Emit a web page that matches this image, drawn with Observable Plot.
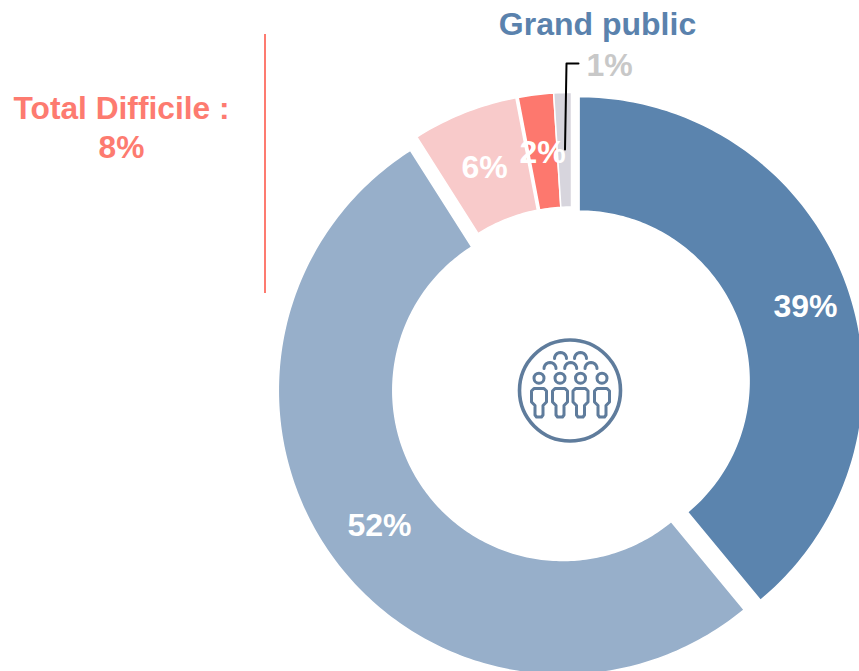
<!DOCTYPE html>
<html>
<head>
<meta charset="utf-8">
<script src="https://cdn.jsdelivr.net/npm/d3@7"></script>
<script src="https://cdn.jsdelivr.net/npm/@observablehq/plot@0.6"></script>
<style>
html,body{margin:0;padding:0;background:#fff;overflow:hidden}
svg{display:block}
</style>
</head>
<body>
<div id="chart"></div>
<script>
// Data
const categories = ["Très facile", "Facile", "Assez difficile", "Difficile", "Très difficile"];
const shares = [39, 52, 6, 2, 1];
const shareLabels = ["39%", "52%", "6%", "2%", "1%"];
const colors = ["#5b84ae", "#97afca", "#f8caca", "#fd786e", "#d7d5dd"];

// Layout of the exploded ring, in pixels of the picture
const centerX = [578.6, 562.3, 568.7, 571, 571];
const centerY = [380.6, 390, 376.7, 376.5, 376.5];
const outerR = 284.5, innerR = 170;
const labelX = [805, 379, 484, 542, 609];
const labelY = [306.5, 525, 167.5, 152.5, 65];
const labelColors = ["#fff", "#fff", "#fff", "#fff", "#c8c8c8"];

const rad = d => d * Math.PI / 180;
const total = d3.sum(shares);
let cum = 0;
const ringRows = [];
shares.forEach((v, i) => {
  const a0 = cum / total * 360, a1 = (cum + v) / total * 360;
  cum += v;
  const n = Math.max(2, Math.ceil(a1 - a0));
  const pt = (r, a) => ({slice: categories[i], x: centerX[i] + r * Math.sin(rad(a)), y: centerY[i] - r * Math.cos(rad(a))});
  for (let k = 0; k <= n; k++) ringRows.push(pt(outerR, a0 + (a1 - a0) * k / n));
  for (let k = n; k >= 0; k--) ringRows.push(pt(innerR, a0 + (a1 - a0) * k / n));
  ringRows.push(pt(outerR, a0));
});

// Icon
const iconX = 569.5, iconY = 390, iconColor = "#5f7c9c";
const headDx = [-31, -10, 10.5, 32], headDy = -12.3;
const arcDx = [-20, 0.7, 21, -9.5, 10.5], arcDy = [-22, -22, -22, -32, -32];
const bodyDx = [-5, -7.5, -7.5, -5, -4, -4, -2.5, 2.5, 4, 4, 5, 7.5, 7.5, 5, -5];
const bodyDy = [-2, 0.5, 11.5, 14, 15, 24.5, 26.5, 26.5, 24.5, 15, 14, 11.5, 0.5, -2, -2];
const iconLines = [];
arcDx.forEach((dx, i) => {
  d3.range(0, 181, 15).forEach(a => iconLines.push({id: "a" + i, x: iconX + dx - 6 * Math.cos(rad(a)), y: iconY + arcDy[i] - 6 * Math.sin(rad(a))}));
});
headDx.forEach((dx, i) => {
  bodyDx.forEach((b, k) => iconLines.push({id: "b" + i, x: iconX + dx + b, y: iconY + bodyDy[k]}));
});

const texts = [
  {t: "Grand public", x: 597, y: 24, c: "#5a82ad", s: 32},
  {t: "Total Difficile :", x: 121, y: 108, c: "#fd7b70", s: 31.7},
  {t: "8%", x: 121, y: 147, c: "#fd7b70", s: 31.7}
];
const labels = shareLabels.map((t, i) => ({t, x: labelX[i], y: labelY[i], c: labelColors[i]}));

const chart = Plot.plot({
  width: 859, height: 671, margin: 0,
  x: {domain: [0, 859], range: [0, 859], axis: null},
  y: {domain: [0, 671], range: [0, 671], axis: null},
  style: {background: "#fff"},
  marks: [
    Plot.line(ringRows, {x: "x", y: "y", z: "slice", fill: d => colors[categories.indexOf(d.slice)], stroke: "#fff", strokeWidth: 1.5, curve: "linear", clip: true}),
    Plot.dot([0], {x: () => iconX, y: () => iconY, r: 50.5, stroke: iconColor, strokeWidth: 3.6, fill: "none"}),
    Plot.dot(headDx, {x: d => iconX + d, y: () => iconY + headDy, r: 5, stroke: iconColor, strokeWidth: 3, fill: "none"}),
    Plot.line(iconLines, {x: "x", y: "y", z: "id", stroke: iconColor, strokeWidth: 3, curve: "linear"}),
    Plot.text(labels, {x: "x", y: "y", text: "t", fill: "c", fontSize: 32, fontWeight: 700, fontFamily: "Liberation Sans", textAnchor: "middle", lineAnchor: "middle"}),
    Plot.text(texts, {x: "x", y: "y", text: "t", fill: "c", fontSize: "s", fontWeight: 700, fontFamily: "Liberation Sans", textAnchor: "middle", lineAnchor: "middle"}),
    Plot.ruleX([264.5], {y1: 34, y2: 293, stroke: "#fd7b70", strokeWidth: 2}),
    Plot.line([{x: 564.5, y: 149}, {x: 566, y: 63}, {x: 578, y: 63}], {x: "x", y: "y", stroke: "#000", strokeWidth: 2, curve: "linear"})
  ]
});
document.getElementById("chart").append(chart);
</script>
</body>
</html>
